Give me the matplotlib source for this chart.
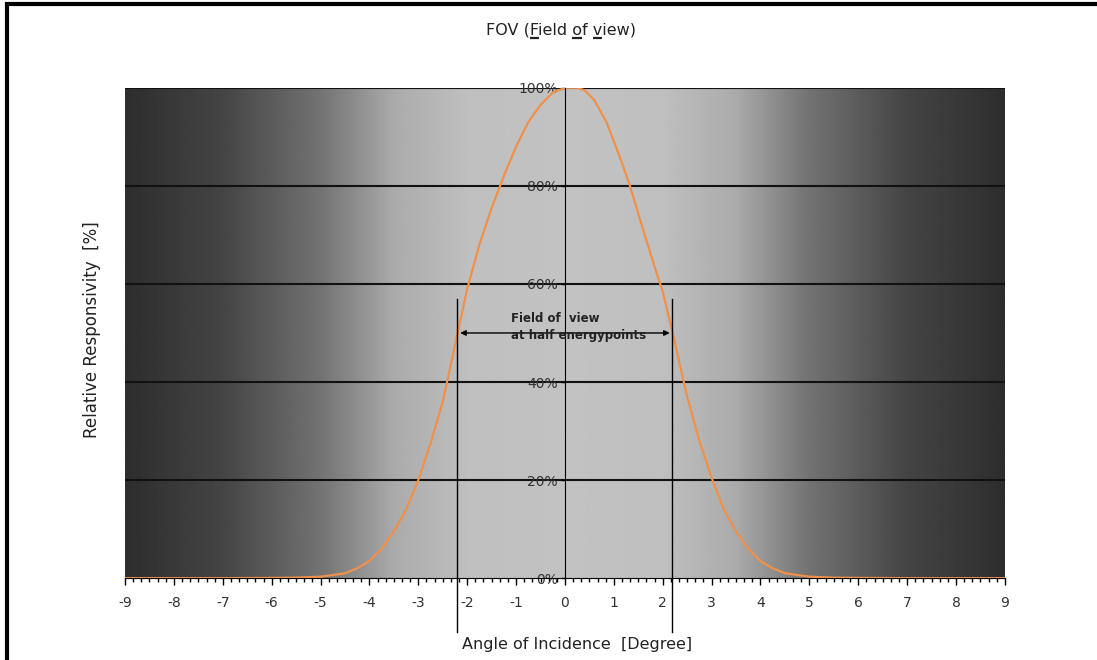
import numpy as np
import matplotlib
matplotlib.use("Agg")
import matplotlib.pyplot as plt
from matplotlib.lines import Line2D
from matplotlib.patches import Rectangle

plt.rcParams['font.family'] = ['DejaVu Sans']

# relative responsivity vs angle of incidence
angle = [-9, -7, -6, -5.5, -5, -4.5, -4.25, -4, -3.75, -3.5, -3.25, -3, -2.75,
         -2.5, -2.25, -2, -1.75, -1.5, -1.25, -1, -0.75, -0.5, -0.25, 0, 0.25,
         0.4, 0.6, 0.85, 1.1, 1.33, 1.6, 1.85, 2, 2.25, 2.5, 2.75, 3, 3.25,
         3.5, 3.75, 4, 4.25, 4.5, 5, 5.5, 6, 7, 9]
resp = [0, 0, 0.05, 0.1, 0.3, 1, 2, 3.5, 6, 9.5, 14, 20, 27.5,
        36, 47.5, 59, 68, 75.5, 82, 88, 93, 96.5, 99, 100, 100,
        99.5, 97.5, 93, 86.5, 80, 71, 63, 58.5, 48, 37, 28, 20.5, 14,
        9.5, 6, 3.5, 2, 1, 0.3, 0.1, 0.05, 0, 0]

yticks = [0, 20, 40, 60, 80, 100]
ytick_labels = ["0%", "20%", "40%", "60%", "80%", "100%"]
xticks = list(range(-9, 10))
half_energy = [-2.2, 2.2]

fig = plt.figure(figsize=(10.97, 6.6), dpi=100)
ax = fig.add_axes([0.114, 0.124, 0.802, 0.743])

# background gradient, dark at the edges, light in the middle
gx = np.linspace(-9, 9, 600)
stops_x = [0, 2, 3.5, 5, 7, 9]
stops_v = [0.76, 0.75, 0.67, 0.45, 0.27, 0.18]
shade = np.interp(np.abs(gx), stops_x, stops_v)
ax.imshow(shade[np.newaxis, :], extent=[-9, 9, 0, 100], aspect='auto',
          cmap='gray', vmin=0, vmax=1, zorder=0, interpolation='bilinear')

for yv in yticks[1:]:
    ax.axhline(yv, color='#111111', lw=1.5, zorder=1)

ax.plot(angle, resp, color='#f0904a', lw=1.6, zorder=3)

ax.set_xlim(-9, 9)
ax.set_ylim(0, 100)

for s in ['top', 'right']:
    ax.spines[s].set_visible(False)
ax.spines['left'].set_position(('data', 0))
ax.spines['left'].set_color('black')
ax.spines['bottom'].set_color('black')
ax.spines['left'].set_zorder(4)

ax.set_xticks(xticks)
ax.set_xticklabels([str(v) for v in xticks])
ax.set_xticks(np.arange(-9, 9.01, 1 / 6), minor=True)
ax.set_yticks(yticks)
ax.set_yticklabels(ytick_labels)
ax.tick_params(axis='x', which='major', length=5, width=1, pad=8,
               labelsize=10, labelcolor='#333333')
ax.tick_params(axis='x', which='minor', length=3, width=1)
ax.tick_params(axis='y', length=3, width=1, pad=2, labelsize=10,
               labelcolor='#333333')

# half energy markers
for xv in half_energy:
    ax.plot([xv, xv], [57, -11], color='black', lw=1, clip_on=False, zorder=4)
ax.annotate('', xy=(half_energy[0], 50), xytext=(half_energy[1], 50),
            arrowprops=dict(arrowstyle='<|-|>', color='black', lw=1,
                            mutation_scale=8), zorder=5)
ax.text(-1.1, 54.3, "Field of  view\nat half energypoints", fontsize=8.5,
        fontweight='bold', color='#222222', va='top', ha='left',
        linespacing=1.4, zorder=5)

fig.text(0.084, 0.5, "Relative Responsivity  [%]", rotation=90,
         ha='center', va='center', fontsize=12, color='#222222')
fig.text(0.526, 0.023, "Angle of Incidence  [Degree]", ha='center',
         va='center', fontsize=11.5, color='#222222')

# title with underlined hot keys
title = "FOV (Field of view)"
t = fig.text(0.511, 0.955, title, ha='center', va='center', fontsize=11.5,
             color='#222222')
fig.canvas.draw()
r = fig.canvas.get_renderer()
bb = t.get_window_extent(r)
fp = t.get_fontproperties()
wfull, _, dfull = r.get_text_width_height_descent(title, fp, ismath=False)
scale = bb.width / wfull
for idx in [5, 11, 14]:
    w0, _, _ = r.get_text_width_height_descent(title[:idx], fp, ismath=False)
    wc, _, _ = r.get_text_width_height_descent(title[idx], fp, ismath=False)
    x0 = bb.x0 + w0 * scale + 0.5
    x1 = x0 + wc * scale - 0.5
    yb = bb.y0 + dfull - 3
    fig.add_artist(Line2D([x0 / fig.bbox.width, x1 / fig.bbox.width],
                          [yb / fig.bbox.height, yb / fig.bbox.height],
                          color='#222222', lw=1.6, solid_capstyle='butt',
                          transform=fig.transFigure))

# outer frame
fig.add_artist(Rectangle((7 / 1097, -0.1), 1.2, 1 - 4 / 660 + 0.1,
                         fill=False, edgecolor='black', lw=3,
                         transform=fig.transFigure))

fig.savefig("out.png", dpi=100)
